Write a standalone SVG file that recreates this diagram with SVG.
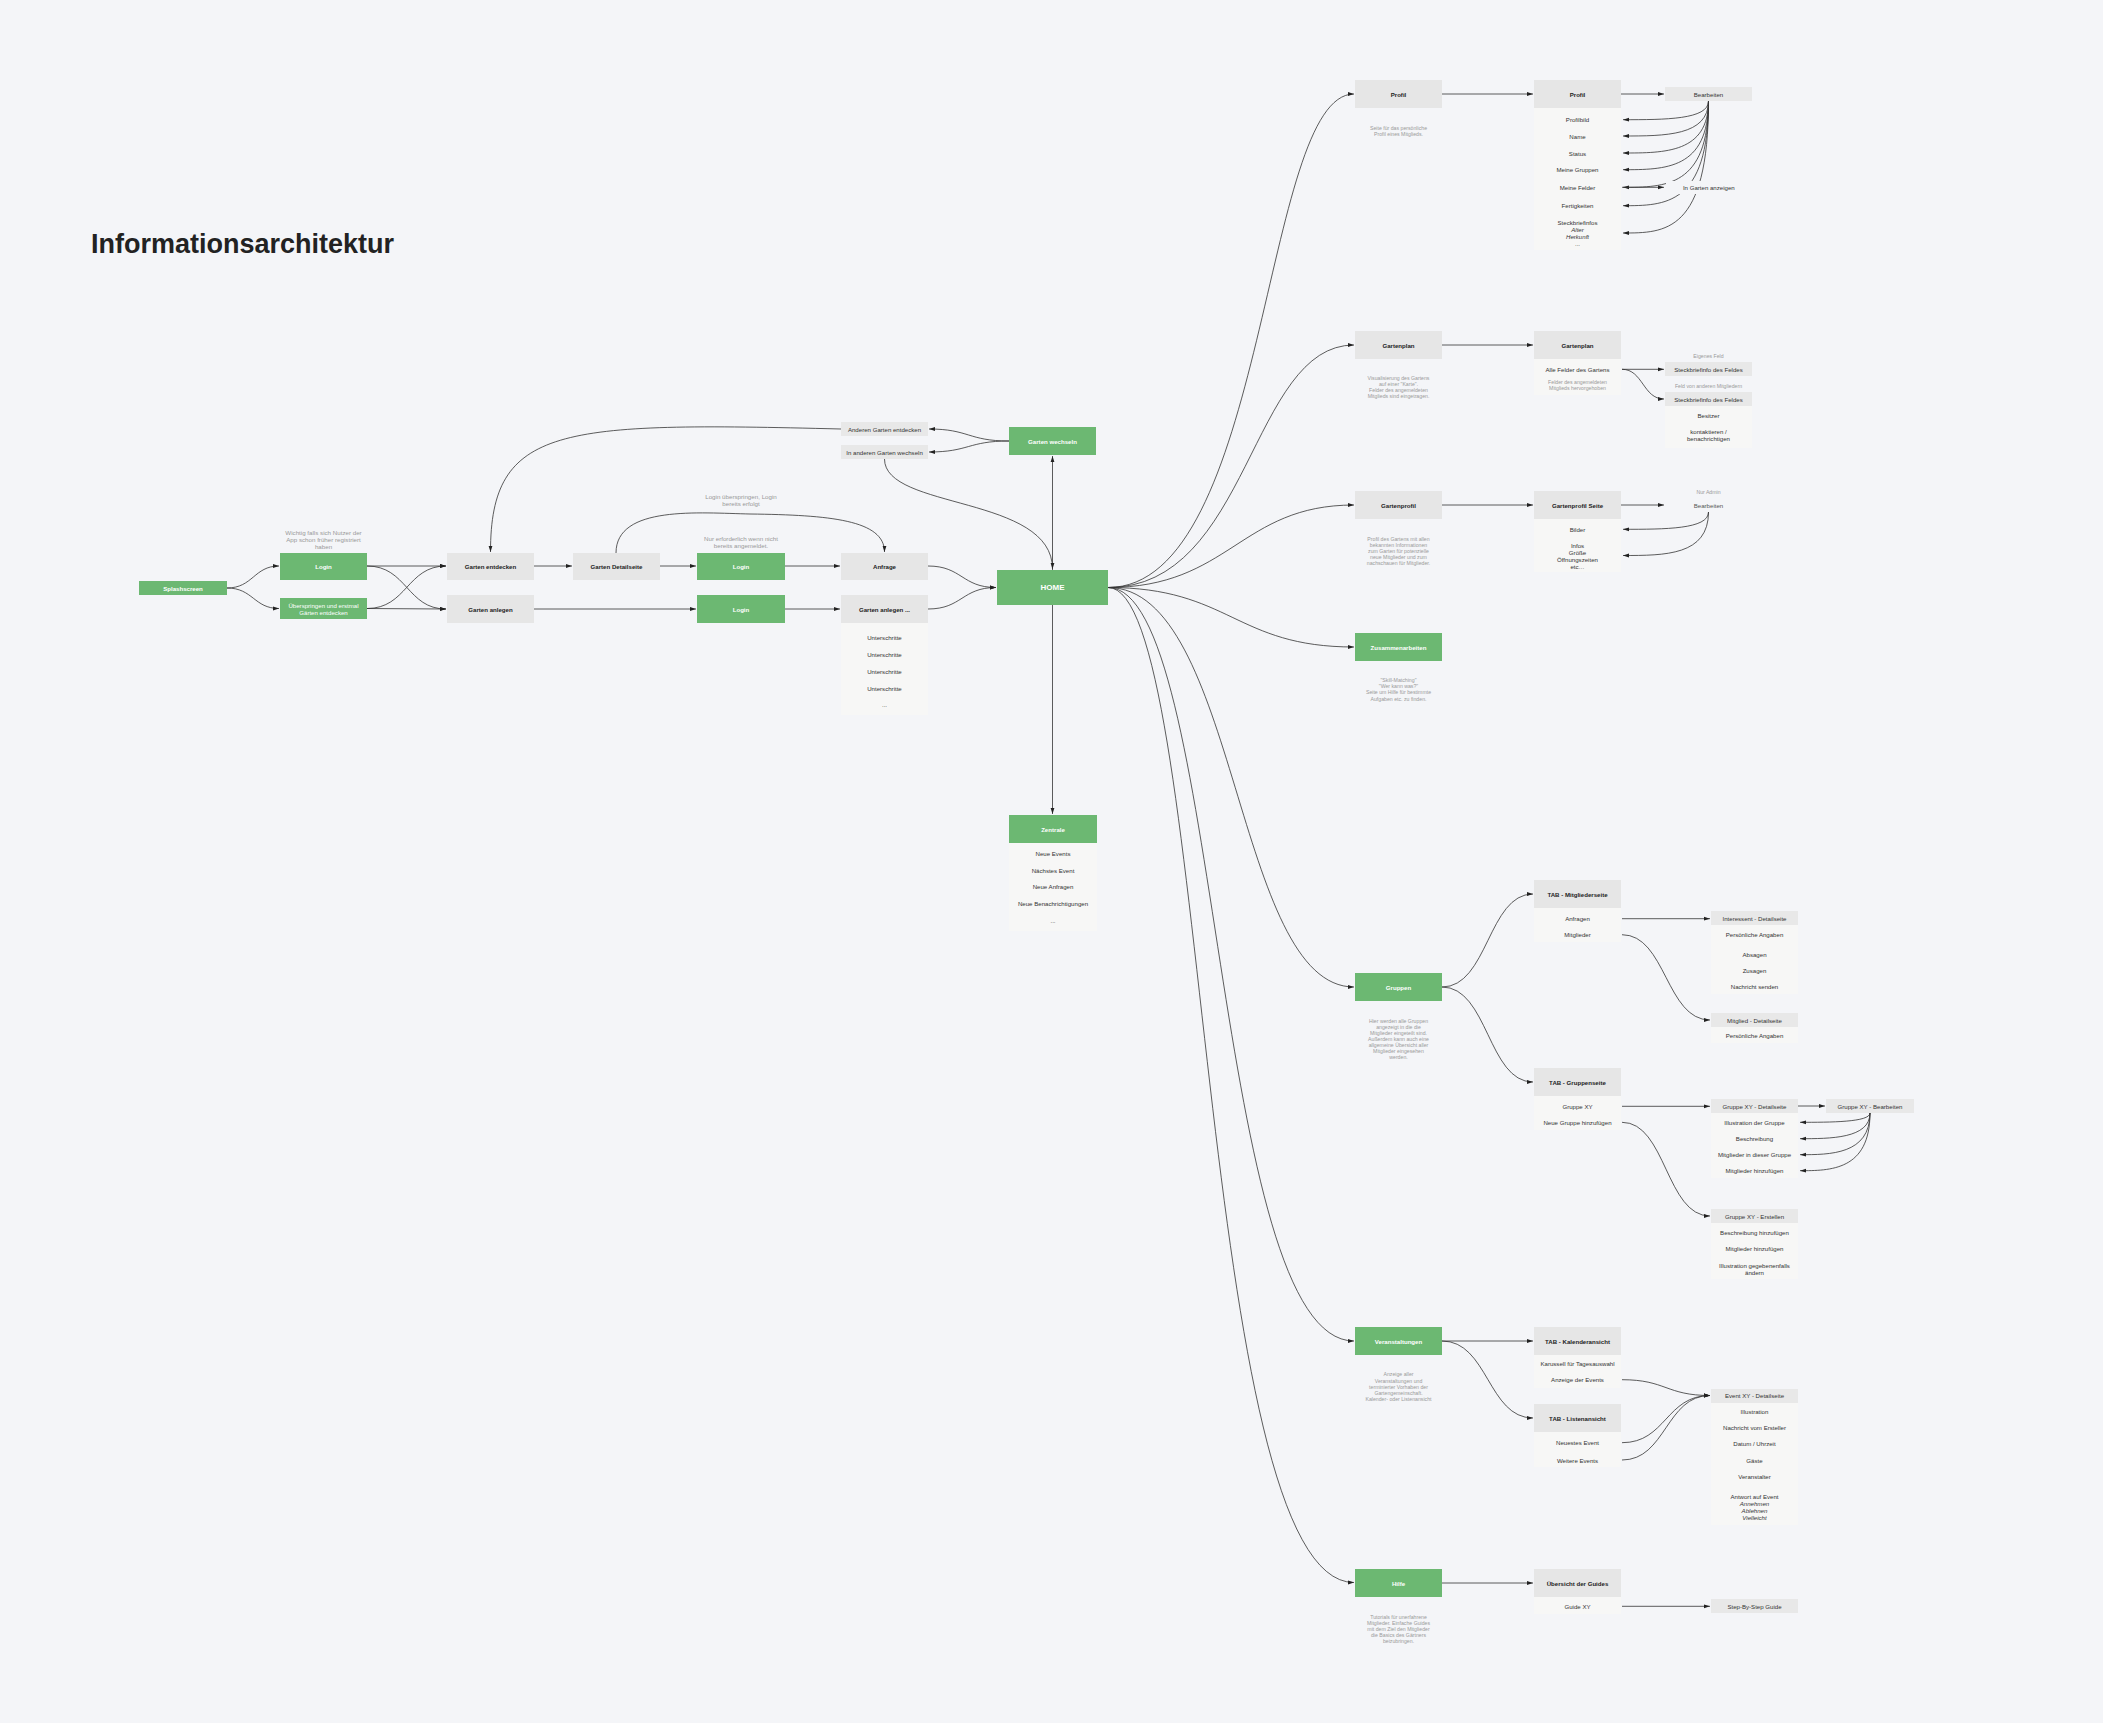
<svg xmlns="http://www.w3.org/2000/svg" width="2103" height="1723" viewBox="0 0 2103 1723">
<defs>
<marker id="ah" markerUnits="userSpaceOnUse" markerWidth="7" markerHeight="5" refX="6" refY="2.5" orient="auto"><path d="M0,0.6 L6,2.5 L0,4.4 z" fill="#222"/></marker>
<style>
text{font-family:"Liberation Sans",Arial,sans-serif;dominant-baseline:central;text-anchor:middle}
.g{fill:#6cb872}
.gr{fill:#e6e6e6}
.sm{fill:#e8e8e8}
.pn{fill:#f7f7f6}
.bgm{fill:#f4f5f8}
.tb{font-size:6.1px;font-weight:bold;fill:#222}
.tw{font-size:6.1px;font-weight:bold;fill:#fff}
.twr{font-size:6.1px;fill:#fff}
.ti{font-size:6.1px;fill:#333}
.it{font-style:italic}
.tn{font-size:5.2px;fill:#9a9a9a}
.tn2{font-size:6.2px;fill:#999}
#connectors path{fill:none;stroke:#333;stroke-width:0.8}
.ar{marker-end:url(#ah)}
</style>
</defs>
<rect x="0" y="0" width="2103" height="1723" fill="#f4f5f8"/>
<text x="91" y="244" style="font-size:27px;font-weight:bold;fill:#222;text-anchor:start">Informationsarchitektur</text>

<g id="connectors">
<path class="ar" d="M227,588 C253,588 254,566 279,566"/>
<path class="ar" d="M227,588 C253,588 254,608.5 279,608.5"/>
<path class="ar" d="M367,566 L446,566"/>
<path class="ar" d="M367,566 C407,566 407,609 446,609"/>
<path class="ar" d="M367,608.5 C407,608.5 407,566 446,566"/>
<path class="ar" d="M367,608.5 L446,609"/>
<path class="ar" d="M534,566 L572,566"/>
<path class="ar" d="M660,566 L696,566"/>
<path class="ar" d="M785,566 L840,566"/>
<path class="ar" d="M534,609 L696,609"/>
<path class="ar" d="M785,609 L840,609"/>
<path class="ar" d="M928,566 C962,566 962,587.5 996,587.5"/>
<path class="ar" d="M928,609 C962,609 962,587.5 996,587.5"/>
<path class="ar" d="M616,553 C616,505 700,513 750,514 C830,515 884.5,520 884.5,552"/>
<path class="ar" d="M1052.5,570 L1052.5,456"/>
<path class="ar" d="M884.5,459 C884.5,510 1052.5,495 1052.5,569"/>
<path class="ar" d="M1009,441 C968,441 969,429 929,429"/>
<path class="ar" d="M1009,441 C968,441 969,452 929,452"/>
<path class="ar" d="M841,429 C560,422 490.5,425 490.5,552"/>
<path class="ar" d="M1052.5,605 L1052.5,814"/>

<path class="ar" d="M1108,587.5 C1268,587.5 1262,94 1354,94"/>
<path class="ar" d="M1108,587.5 C1250,587.5 1250,345 1354,345"/>
<path class="ar" d="M1108,587.5 C1230,587.5 1240,505 1354,505"/>
<path class="ar" d="M1108,587.5 C1230,587.5 1235,647 1354,647"/>
<path class="ar" d="M1108,587.5 C1238,587.5 1235,987 1354,987"/>
<path class="ar" d="M1108,587.5 C1222,587.5 1212,1341 1354,1341"/>
<path class="ar" d="M1108,587.5 C1210,587.5 1196,1582.5 1354,1582.5"/>

<path class="ar" d="M1442,94 L1533,94"/>
<path class="ar" d="M1621,94 L1664,94"/>
<path class="ar" d="M1708.5,101 C1708.5,119.7 1665,119.7 1623,119.7"/>
<path class="ar" d="M1708.5,101 C1708.5,136 1665,136 1623,136"/>
<path class="ar" d="M1708.5,101 C1708.5,153 1665,153 1623,153"/>
<path class="ar" d="M1708.5,101 C1708.5,169.7 1665,169.7 1623,169.7"/>
<path class="ar" d="M1708.5,101 C1708.5,187.3 1665,187.3 1623,187.3"/>
<path class="ar" d="M1708.5,101 C1708.5,205.7 1665,205.7 1623,205.7"/>
<path class="ar" d="M1708.5,101 C1708.5,233 1665,233 1623,233"/>
<path class="ar" d="M1622,187.3 L1664,187.3"/>

<path class="ar" d="M1442,345 L1533,345"/>
<path class="ar" d="M1622,369.3 L1664,369.3"/>
<path class="ar" d="M1622,369.3 C1643,369.3 1643,399 1664,399"/>
<path class="ar" d="M1442,505 L1533,505"/>
<path class="ar" d="M1621,505 L1664,505"/>
<path class="ar" d="M1708.5,512 C1708.5,529.3 1665,529.3 1623,529.3"/>
<path class="ar" d="M1708.5,512 C1708.5,555.5 1665,555.5 1623,555.5"/>

<path class="ar" d="M1442,987 C1488,987 1488,894 1533,894"/>
<path class="ar" d="M1442,987 C1488,987 1488,1082 1533,1082"/>
<path class="ar" d="M1622,918.7 L1710,918.7"/>
<path class="ar" d="M1622,934.7 C1666,934.7 1666,1020 1710,1020"/>
<path class="ar" d="M1622,1106.3 L1710,1106.3"/>
<path class="ar" d="M1798,1106 L1825,1106"/>
<path class="ar" d="M1622,1122.3 C1666,1122.3 1666,1216 1710,1216"/>
<path class="ar" d="M1870,1113 C1870,1122.3 1830,1122.3 1800,1122.3"/>
<path class="ar" d="M1870,1113 C1870,1138.7 1830,1138.7 1800,1138.7"/>
<path class="ar" d="M1870,1113 C1870,1154.7 1830,1154.7 1800,1154.7"/>
<path class="ar" d="M1870,1113 C1870,1170.7 1830,1170.7 1800,1170.7"/>

<path class="ar" d="M1442,1341 L1533,1341"/>
<path class="ar" d="M1442,1341 C1488,1341 1488,1418 1533,1418"/>
<path class="ar" d="M1622,1379.7 C1666,1379.7 1666,1395.5 1710,1395.5"/>
<path class="ar" d="M1622,1442.7 C1666,1442.7 1666,1395.5 1710,1395.5"/>
<path class="ar" d="M1622,1460 C1666,1460 1666,1395.5 1710,1395.5"/>

<path class="ar" d="M1442,1583 L1533,1583"/>
<path class="ar" d="M1622,1606.3 L1710,1606.3"/>
</g>

<g id="n-splash"><rect class="g" x="139" y="581" width="88" height="14"/><text class="tw" x="183" y="588">Splashscreen</text></g>
<g id="n-login1"><rect class="g" x="280" y="553" width="87" height="27"/><text class="tw" x="323.5" y="566.5">Login</text>
<text class="tn2" x="323.5" y="532">Wichtig falls sich Nutzer der</text><text class="tn2" x="323.5" y="539">App schon früher registriert</text><text class="tn2" x="323.5" y="546">haben</text></g>
<g id="n-skip"><rect class="g" x="280" y="598" width="87" height="21"/><text class="twr" x="323.5" y="605">Überspringen und erstmal</text><text class="twr" x="323.5" y="612.5">Gärten entdecken</text></g>
<g id="n-entdecken"><rect class="gr" x="447" y="553" width="87" height="27"/><text class="tb" x="490.5" y="566.5">Garten entdecken</text></g>
<g id="n-anlegen"><rect class="gr" x="447" y="595" width="87" height="28"/><text class="tb" x="490.5" y="609">Garten anlegen</text></g>
<g id="n-detail"><rect class="gr" x="573" y="553" width="87" height="27"/><text class="tb" x="616.5" y="566.5">Garten Detailseite</text>
<text class="tn2" x="741" y="496.3">Login überspringen, Login</text><text class="tn2" x="741" y="503.3">bereits erfolgt</text></g>
<g id="n-login2"><rect class="g" x="697" y="553" width="88" height="27"/><text class="tw" x="741" y="566.5">Login</text>
<text class="tn2" x="741" y="538.7">Nur erforderlich wenn nicht</text><text class="tn2" x="741" y="545.7">bereits angemeldet.</text></g>
<g id="n-login3"><rect class="g" x="697" y="595" width="88" height="28"/><text class="tw" x="741" y="609">Login</text></g>
<g id="n-anfrage"><rect class="gr" x="841" y="553" width="87" height="27"/><text class="tb" x="884.5" y="566.5">Anfrage</text></g>
<g id="n-anlegen2"><rect class="gr" x="841" y="595" width="87" height="28"/><text class="tb" x="884.5" y="609">Garten anlegen ...</text>
<rect class="pn" x="841" y="623" width="87" height="92"/>
<text class="ti" x="884.5" y="637.7">Unterschritte</text><text class="ti" x="884.5" y="654.3">Unterschritte</text><text class="ti" x="884.5" y="671">Unterschritte</text><text class="ti" x="884.5" y="688">Unterschritte</text><text class="ti" x="884.5" y="704">...</text></g>
<g id="n-anderen"><rect class="sm" x="841" y="422" width="87" height="14"/><text class="ti" x="884.5" y="429">Anderen Garten entdecken</text></g>
<g id="n-inanderen"><rect class="sm" x="841" y="445" width="87" height="14"/><text class="ti" x="884.5" y="452">In anderen Garten wechseln</text></g>
<g id="n-wechseln"><rect class="g" x="1009" y="427" width="87" height="28"/><text class="tw" x="1052.5" y="441">Garten wechseln</text></g>
<g id="n-home"><rect class="g" x="997" y="570" width="111" height="35"/><text class="tw" style="font-size:8px" x="1052.5" y="587.5">HOME</text></g>
<g id="n-zentrale"><rect class="g" x="1009" y="815" width="88" height="28"/><text class="tw" x="1053" y="829">Zentrale</text>
<rect class="pn" x="1009" y="843" width="88" height="88"/>
<text class="ti" x="1053" y="853">Neue Events</text><text class="ti" x="1053" y="870">Nächstes Event</text><text class="ti" x="1053" y="886">Neue Anfragen</text><text class="ti" x="1053" y="903">Neue Benachrichtigungen</text><text class="ti" x="1053" y="920">...</text></g>

<g id="n-profil1"><rect class="gr" x="1355" y="80" width="87" height="28"/><text class="tb" x="1398.5" y="94">Profil</text>
<text class="tn" x="1398.5" y="128">Seite für das persönliche</text><text class="tn" x="1398.5" y="134">Profil eines Mitglieds.</text></g>
<g id="n-profil2"><rect class="gr" x="1534" y="80" width="87" height="28"/><text class="tb" x="1577.5" y="94">Profil</text>
<rect class="pn" x="1534" y="108" width="87" height="142"/>
<text class="ti" x="1577.5" y="119.7">Profilbild</text><text class="ti" x="1577.5" y="136">Name</text><text class="ti" x="1577.5" y="153">Status</text><text class="ti" x="1577.5" y="169.7">Meine Gruppen</text><text class="ti" x="1577.5" y="187.3">Meine Felder</text><text class="ti" x="1577.5" y="205.7">Fertigkeiten</text><text class="ti" x="1577.5" y="222.7">Steckbriefinfos</text><text class="ti it" x="1577.5" y="229.7">Alter</text><text class="ti it" x="1577.5" y="236.7">Herkunft</text><text class="ti" x="1577.5" y="243">...</text></g>
<g id="n-bearbeiten1"><rect class="sm" x="1665" y="87" width="87" height="14"/><text class="ti" x="1708.5" y="94">Bearbeiten</text></g>
<g id="n-ingarten"><rect class="bgm" x="1666" y="181" width="86" height="13"/><text class="ti" x="1708.8" y="187.3">In Garten anzeigen</text></g>

<g id="n-gartenplan1"><rect class="gr" x="1355" y="331" width="87" height="28"/><text class="tb" x="1398.5" y="345">Gartenplan</text>
<text class="tn" x="1398.5" y="378.3">Visualisierung des Gartens</text><text class="tn" x="1398.5" y="384.3">auf einer "Karte".</text><text class="tn" x="1398.5" y="390.3">Felder des angemeldeten</text><text class="tn" x="1398.5" y="396.3">Mitglieds sind eingetragen.</text></g>
<g id="n-gartenplan2"><rect class="gr" x="1534" y="331" width="87" height="28"/><text class="tb" x="1577.5" y="345">Gartenplan</text>
<rect class="pn" x="1534" y="359" width="87" height="36"/>
<text class="ti" x="1577.5" y="369.3">Alle Felder des Gartens</text>
<text class="tn" x="1577.5" y="382.3">Felder des angemeldeten</text><text class="tn" x="1577.5" y="388.3">Mitglieds hervorgehoben</text></g>
<g id="n-steck1"><text class="tn" x="1708.5" y="356">Eigenes Feld</text><rect class="sm" x="1665" y="362" width="87" height="14"/><text class="ti" x="1708.5" y="369.3">Steckbriefinfo des Feldes</text></g>
<g id="n-steck2"><text class="tn" x="1708.5" y="386">Feld von anderen Mitgliedern</text><rect class="sm" x="1665" y="392" width="87" height="14"/><text class="ti" x="1708.5" y="399">Steckbriefinfo des Feldes</text>
<rect class="pn" x="1665" y="406" width="87" height="42"/>
<text class="ti" x="1708.5" y="415.7">Besitzer</text><text class="ti" x="1708.5" y="431.7">kontaktieren /</text><text class="ti" x="1708.5" y="438.7">benachrichtigen</text></g>

<g id="n-gartenprofil1"><rect class="gr" x="1355" y="491" width="87" height="28"/><text class="tb" x="1398.5" y="505">Gartenprofil</text>
<text class="tn" x="1398.5" y="539">Profil des Gartens mit allen</text><text class="tn" x="1398.5" y="545">bekannten Informationen</text><text class="tn" x="1398.5" y="551">zum Garten für potenzielle</text><text class="tn" x="1398.5" y="557">neue Mitglieder und zum</text><text class="tn" x="1398.5" y="563">nachschauen für Mitglieder.</text></g>
<g id="n-gartenprofil2"><rect class="gr" x="1534" y="491" width="87" height="28"/><text class="tb" x="1577.5" y="505">Gartenprofil Seite</text>
<rect class="pn" x="1534" y="519" width="87" height="53"/>
<text class="ti" x="1577.5" y="529.3">Bilder</text><text class="ti" x="1577.5" y="545.3">Infos</text><text class="ti" x="1577.5" y="552.3">Größe</text><text class="ti" x="1577.5" y="559.3">Öffnungszeiten</text><text class="ti" x="1577.5" y="566.3">etc…</text></g>
<g id="n-bearbeiten2"><text class="tn" x="1708.5" y="492">Nur Admin</text><text class="ti" style="fill:#555" x="1708.5" y="505.3">Bearbeiten</text></g>

<g id="n-zusammen"><rect class="g" x="1355" y="633" width="87" height="28"/><text class="tw" x="1398.5" y="647">Zusammenarbeiten</text>
<text class="tn" x="1398.5" y="680.3">"Skill-Matching"</text><text class="tn" x="1398.5" y="686.3">"Wer kann was?"</text><text class="tn" x="1398.5" y="692.3">Seite um Hilfe für bestimmte</text><text class="tn" x="1398.5" y="698.5">Aufgaben etc. zu finden.</text></g>

<g id="n-gruppen"><rect class="g" x="1355" y="973" width="87" height="28"/><text class="tw" x="1398.5" y="987">Gruppen</text>
<text class="tn" x="1398.5" y="1020.7">Hier werden alle Gruppen</text><text class="tn" x="1398.5" y="1026.7">angezeigt in die die</text><text class="tn" x="1398.5" y="1032.7">Mitglieder eingeteilt sind.</text><text class="tn" x="1398.5" y="1038.7">Außerdem kann auch eine</text><text class="tn" x="1398.5" y="1044.7">allgemeine Übersicht aller</text><text class="tn" x="1398.5" y="1050.7">Mitglieder eingesehen</text><text class="tn" x="1398.5" y="1056.7">werden.</text></g>
<g id="n-tabm"><rect class="gr" x="1534" y="880" width="87" height="28"/><text class="tb" x="1577.5" y="894">TAB - Mitgliederseite</text>
<rect class="pn" x="1534" y="908" width="87" height="34"/>
<text class="ti" x="1577.5" y="918.7">Anfragen</text><text class="ti" x="1577.5" y="934.7">Mitglieder</text></g>
<g id="n-interessent"><rect class="sm" x="1711" y="911" width="87" height="14"/><text class="ti" x="1754.5" y="918.2">Interessent - Detailseite</text>
<rect class="pn" x="1711" y="925" width="87" height="69"/>
<text class="ti" x="1754.5" y="934.7">Persönliche Angaben</text><text class="ti" x="1754.5" y="954.3">Absagen</text><text class="ti" x="1754.5" y="970.3">Zusagen</text><text class="ti" x="1754.5" y="986.3">Nachricht senden</text></g>
<g id="n-mitglied"><rect class="sm" x="1711" y="1013" width="87" height="14"/><text class="ti" x="1754.5" y="1020">Mitglied - Detailseite</text>
<rect class="pn" x="1711" y="1027" width="87" height="16"/>
<text class="ti" x="1754.5" y="1035.7">Persönliche Angaben</text></g>
<g id="n-tabg"><rect class="gr" x="1534" y="1068" width="87" height="28"/><text class="tb" x="1577.5" y="1082">TAB - Gruppenseite</text>
<rect class="pn" x="1534" y="1096" width="87" height="34"/>
<text class="ti" x="1577.5" y="1106.3">Gruppe XY</text><text class="ti" x="1577.5" y="1122.3">Neue Gruppe hinzufügen</text></g>
<g id="n-gxyd"><rect class="sm" x="1711" y="1099" width="87" height="14"/><text class="ti" x="1754.5" y="1106">Gruppe XY - Detailseite</text>
<rect class="pn" x="1711" y="1113" width="87" height="65"/>
<text class="ti" x="1754.5" y="1122.3">Illustration der Gruppe</text><text class="ti" x="1754.5" y="1138.7">Beschreibung</text><text class="ti" x="1754.5" y="1154.7">Mitglieder in dieser Gruppe</text><text class="ti" x="1754.5" y="1170.7">Mitglieder hinzufügen</text></g>
<g id="n-gxyb"><rect class="sm" x="1826" y="1099" width="88" height="14"/><text class="ti" x="1870" y="1106">Gruppe XY - Bearbeiten</text></g>
<g id="n-gxye"><rect class="sm" x="1711" y="1209" width="87" height="14"/><text class="ti" x="1754.5" y="1216">Gruppe XY - Erstellen</text>
<rect class="pn" x="1711" y="1223" width="87" height="56"/>
<text class="ti" x="1754.5" y="1232.7">Beschreibung hinzufügen</text><text class="ti" x="1754.5" y="1248.7">Mitglieder hinzufügen</text><text class="ti" x="1754.5" y="1265">Illustration gegebenenfalls</text><text class="ti" x="1754.5" y="1272">ändern</text></g>

<g id="n-veranst"><rect class="g" x="1355" y="1327" width="87" height="28"/><text class="tw" x="1398.5" y="1341">Veranstaltungen</text>
<text class="tn" x="1398.5" y="1374.3">Anzeige aller</text><text class="tn" x="1398.5" y="1380.5">Veranstaltungen und</text><text class="tn" x="1398.5" y="1386.7">terminierter Vorhaben der</text><text class="tn" x="1398.5" y="1392.7">Gartengemeinschaft.</text><text class="tn" x="1398.5" y="1398.7">Kalender- oder Listenansicht</text></g>
<g id="n-tabk"><rect class="gr" x="1534" y="1327" width="87" height="28"/><text class="tb" x="1577.5" y="1341">TAB - Kalenderansicht</text>
<rect class="pn" x="1534" y="1355" width="87" height="33"/>
<text class="ti" x="1577.5" y="1363.7">Karussell für Tagesauswahl</text><text class="ti" x="1577.5" y="1379.7">Anzeige der Events</text></g>
<g id="n-tabl"><rect class="gr" x="1534" y="1404" width="87" height="28"/><text class="tb" x="1577.5" y="1418">TAB - Listenansicht</text>
<rect class="pn" x="1534" y="1432" width="87" height="35"/>
<text class="ti" x="1577.5" y="1442.7">Neuestes Event</text><text class="ti" x="1577.5" y="1460">Weitere Events</text></g>
<g id="n-event"><rect class="sm" x="1711" y="1389" width="87" height="14"/><text class="ti" x="1754.5" y="1395.7">Event XY - Detailseite</text>
<rect class="pn" x="1711" y="1403" width="87" height="122"/>
<text class="ti" x="1754.5" y="1411.3">Illustration</text><text class="ti" x="1754.5" y="1427.7">Nachricht vom Ersteller</text><text class="ti" x="1754.5" y="1443.7">Datum / Uhrzeit</text><text class="ti" x="1754.5" y="1460.3">Gäste</text><text class="ti" x="1754.5" y="1476.3">Veranstalter</text><text class="ti" x="1754.5" y="1496.3">Antwort auf Event</text><text class="ti it" x="1754.5" y="1503.3">Annehmen</text><text class="ti it" x="1754.5" y="1510.3">Ablehnen</text><text class="ti it" x="1754.5" y="1517.3">Vielleicht</text></g>

<g id="n-hilfe"><rect class="g" x="1355" y="1569" width="87" height="28"/><text class="tw" x="1398.5" y="1583">Hilfe</text>
<text class="tn" x="1398.5" y="1617">Tutorials für unerfahrene</text><text class="tn" x="1398.5" y="1623">Mitglieder. Einfache Guides</text><text class="tn" x="1398.5" y="1629">mit dem Ziel den Mitglieder</text><text class="tn" x="1398.5" y="1635">die Basics des Gärtners</text><text class="tn" x="1398.5" y="1641">beizubringen.</text></g>
<g id="n-uebersicht"><rect class="gr" x="1534" y="1569" width="87" height="28"/><text class="tb" x="1577.5" y="1583">Übersicht der Guides</text>
<rect class="pn" x="1534" y="1597" width="87" height="17"/>
<text class="ti" x="1577.5" y="1606.3">Guide XY</text></g>
<g id="n-step"><rect class="sm" x="1711" y="1599" width="87" height="14"/><text class="ti" x="1754.5" y="1606">Step-By-Step Guide</text></g>
</svg>
